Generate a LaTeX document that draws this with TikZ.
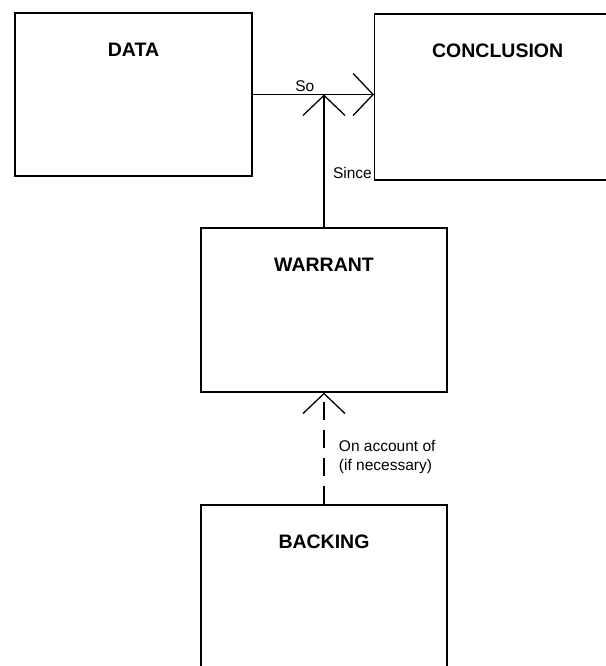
\documentclass[tikz,border=0pt]{standalone}
\usepackage{fontspec}
\setmainfont{Liberation Sans}
\usetikzlibrary{arrows.meta,positioning,calc}

\begin{document}
\begin{tikzpicture}[x=1pt,y=-1pt,line width=1.3pt,
  >={Straight Barb[length=20pt,width=42pt]},
  box/.style={draw,minimum width=237pt,minimum height=163pt,inner sep=0pt},
  tag/.style={below=30pt,inner sep=0pt,font=\bfseries\fontsize{19.5}{22}\selectfont},
  note/.style={font=\fontsize{15.5}{19}\selectfont,align=left}]
\useasboundingbox (0,0) rectangle (605,666);
\node[box,label={[tag]north:DATA}] at (133.5,94.5) (data) {};
\node[box,minimum width=280pt,minimum height=166pt,anchor=west,label={[tag,xshift=-17pt]north:CONCLUSION}] at (374,97) (conc) {};
\node[box,minimum width=246pt,minimum height=164pt,label={[tag]north:WARRANT}] at (324,310) (warrant) {};
\node[box,minimum width=246pt,minimum height=164pt,label={[tag]north:BACKING}] at (324,587) (backing) {};
\coordinate (hub) at (warrant.north |- data.east);
\draw[->] (data.east) -- node[note,pos=0.43,above,inner sep=2pt] (so) {So} (data.east -| conc.west);
\draw[->] (warrant.north) -- (hub);
\node[note,anchor=south east,inner sep=1.5pt] (since) at (conc.south west) {Since};
\draw[->,dash pattern=on 18pt off 10pt] (backing.north) -- node[note,pos=0.42,right=11pt] (onacc) {On account of\\(if necessary)} (warrant.south);
\end{tikzpicture}
\end{document}
